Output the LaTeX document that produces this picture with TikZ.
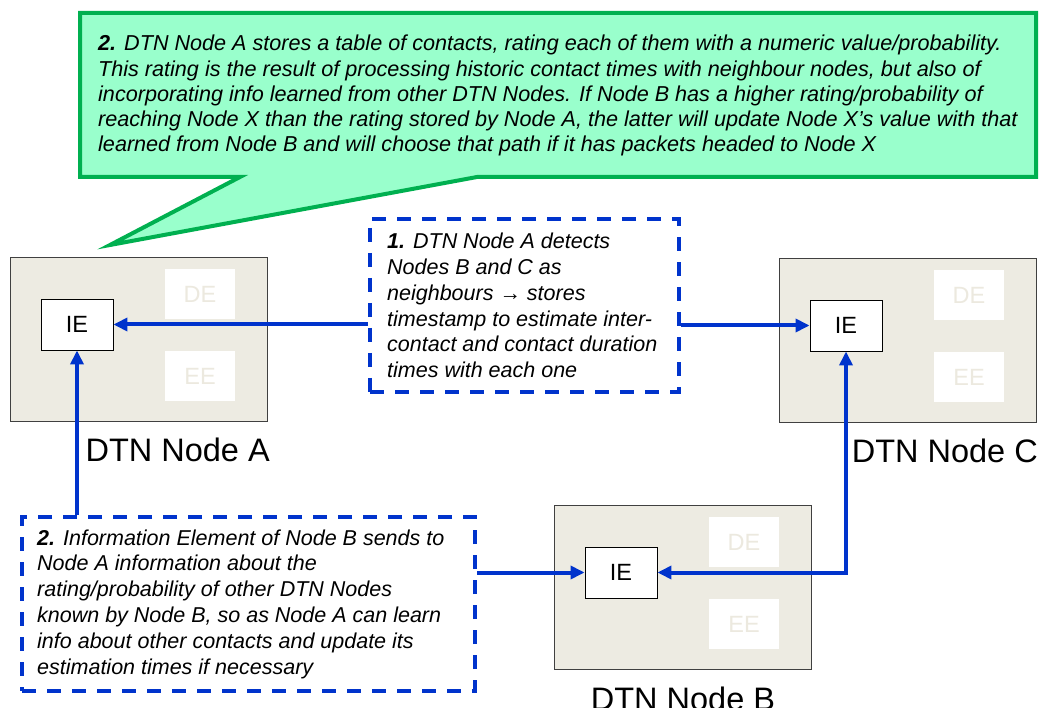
\documentclass[tikz,border=0pt]{standalone}
\usepackage{fontspec}
\setmainfont{Liberation Sans}
\usetikzlibrary{arrows.meta}
\definecolor{linkblue}{RGB}{0,51,204}
\definecolor{calloutfill}{RGB}{153,255,204}
\definecolor{calloutedge}{RGB}{0,176,80}
\definecolor{nodebeige}{RGB}{237,235,226}
\definecolor{ghosttext}{RGB}{236,233,223}
\begin{document}
\begin{tikzpicture}[x=1pt, y=-1pt,
    dtn/.style={draw=black!75, line width=1pt, fill=nodebeige, minimum width=257pt, minimum height=164pt, inner sep=0pt},
    ie/.style={draw=black, line width=0.9pt, fill=white, minimum width=72pt, minimum height=51pt, inner sep=0pt, font=\fontsize{23.5}{26}\selectfont},
    ghost/.style={fill=white, text=ghosttext, minimum width=70pt, minimum height=50pt, inner sep=0pt, font=\fontsize{23.5}{26}\selectfont},
    dtnlabel/.style={inner sep=0pt, font=\fontsize{32.5}{36}\selectfont},
    note/.style={draw=linkblue, line width=4pt, dash pattern=on 14pt off 11pt, inner sep=0pt},
    notetext/.style={inner sep=0pt, align=left, font=\fontsize{21.5}{25.8}\selectfont\itshape},
    ruletext/.style={inner sep=0pt, align=left, font=\fontsize{21.6}{25.2}\selectfont\itshape},
    link/.style={draw=linkblue, line width=4pt, -{Triangle[length=14pt,width=13pt]}}]
\useasboundingbox (0,0) rectangle (1042,708);

% callout with the rating rule
\draw[draw=calloutedge, fill=calloutfill, line width=4pt] (80,13) -- (1036,13) -- (1036,177) -- (477,177) -- (110,245) -- (240,177) -- (80,177) -- cycle;
\node[ruletext, anchor=north west] (rule) at (98,35) {\textbf{2.} DTN Node A stores a table of contacts, rating each of them with a numeric value/probability.\\
This rating is the result of processing historic contact times with neighbour nodes, but also of\\
incorporating info learned from other DTN Nodes. If Node B has a higher rating/probability of\\
reaching Node X than the rating stored by Node A, the latter will update Node X's value with that\\
learned from Node B and will choose that path if it has packets headed to Node X};

% DTN nodes
\foreach \n/\x/\y in {A/10/257, C/779/258, B/554/505} {
    \node[dtn, anchor=north west] (box\n) at (\x,\y) {};
    \node[ie] (ie\n) at ([shift={(67,67.5)}]box\n.north west) {IE};
    \node[ghost] (de\n) at ([shift={(190,37)}]box\n.north west) {DE};
    \node[ghost] (ee\n) at ([shift={(190,119)}]box\n.north west) {EE};
}
\node[dtnlabel, anchor=base east] (labA) at ([xshift=2pt, yshift=-40pt]boxA.south east) {DTN Node A};
\node[dtnlabel, anchor=base east] (labC) at ([xshift=1pt, yshift=-40pt]boxC.south east) {DTN Node C};
\node[dtnlabel, anchor=base] (labB) at ([yshift=-40pt]boxB.south) {DTN Node B};

% notes
\node[note, minimum width=309pt, minimum height=173pt, anchor=north west] (note1) at (368,217) {};
\node[notetext, anchor=west] (note1text) at ([xshift=19pt]note1.west) {\textbf{1.} DTN Node A detects\\
Nodes B and C as\\
neighbours → stores\\
timestamp to estimate inter-\\
contact and contact duration\\
times with each one};
\node[note, minimum width=453pt, minimum height=174pt, anchor=north west] (note2) at (20,515) {};
\node[notetext, anchor=west] (note2text) at ([xshift=17pt]note2.west) {\textbf{2.} Information Element of Node B sends to\\
Node A information about the\\
rating/probability of other DTN Nodes\\
known by Node B, so as Node A can learn\\
info about other contacts and update its\\
estimation times if necessary};

% links
\draw[link] (note1.west |- ieA.east) -- (ieA.east);
\draw[link] (note1.east |- ieC.west) -- (ieC.west);
\draw[link] (ieA.south |- note2.north) -- (ieA.south);
\draw[link] (note2.east |- ieB.west) -- (ieB.west);
\draw[link, {Triangle[length=14pt,width=13pt]}-{Triangle[length=14pt,width=13pt]}] (ieC.south) |- (ieB.east);
\end{tikzpicture}
\end{document}
